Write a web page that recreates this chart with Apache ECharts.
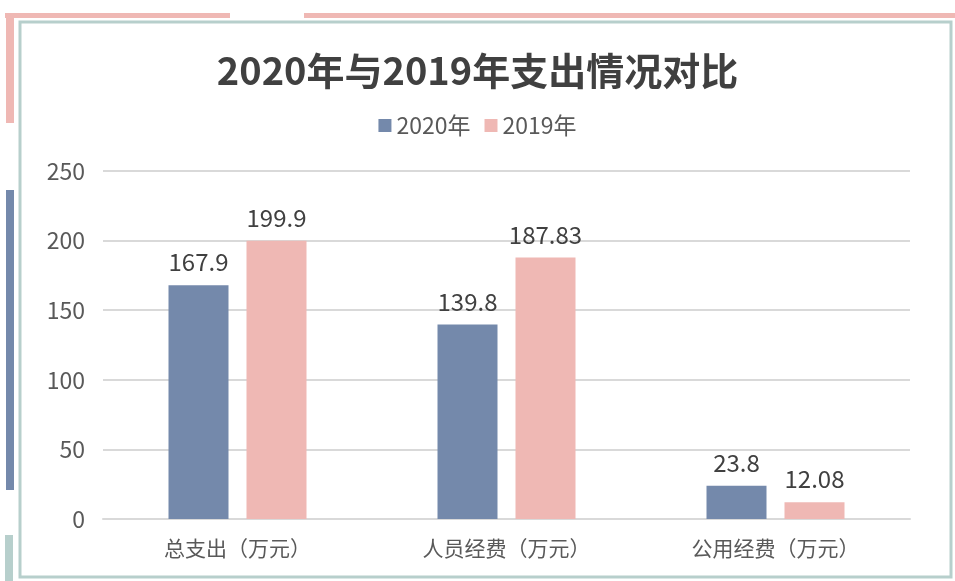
<!DOCTYPE html>
<html>
<head>
<meta charset="utf-8">
<script src="https://cdn.jsdelivr.net/npm/echarts@6/dist/echarts.min.js"></script>
<style>
  html, body { margin: 0; padding: 0; background: #fff; }
  #main { width: 955px; height: 581px; }
</style>
</head>
<body>
<div id="main"></div>
<script>
// 数据
var categories = ['总支出（万元）', '人员经费（万元）', '公用经费（万元）'];
var values2020 = [167.9, 139.8, 23.8];
var values2019 = [199.9, 187.83, 12.08];
var seriesNames = ['2020年', '2019年'];

var myChart = echarts.init(document.getElementById('main'));

var font = '"Noto Sans CJK SC", "Noto Sans", sans-serif';

var option = {
    backgroundColor: '#fff',
    textStyle: { fontFamily: font },
    // 装饰边框
    graphic: [
        { type: 'rect', shape: { x: 5, y: 13, width: 225, height: 5 }, style: { fill: '#efb8b4' }, silent: true },
        { type: 'rect', shape: { x: 304, y: 13, width: 651, height: 5 }, style: { fill: '#efb8b4' }, silent: true },
        { type: 'rect', shape: { x: 6, y: 13, width: 8, height: 110 }, style: { fill: '#efb8b4' }, silent: true },
        { type: 'rect', shape: { x: 6, y: 190, width: 8, height: 300 }, style: { fill: '#7489ab' }, silent: true },
        { type: 'rect', shape: { x: 5, y: 535, width: 8, height: 46 }, style: { fill: '#b7cfcc' }, silent: true },
        { type: 'rect', shape: { x: 20, y: 22, width: 931, height: 555 },
          style: { fill: '#fff', stroke: '#b7cfcc', lineWidth: 3 }, silent: true, z: -1 }
    ],
    title: {
        text: '2020年与2019年支出情况对比',
        left: 'center',
        top: 47,
        textStyle: { fontSize: 38, fontWeight: 'bold', color: '#404040', fontFamily: font }
    },
    legend: {
        data: seriesNames,
        top: 109,
        left: 'center',
        itemWidth: 13,
        itemHeight: 13,
        itemGap: 14,
        icon: 'rect',
        textStyle: { fontSize: 23, color: '#595959', fontFamily: font }
    },
    grid: {
        left: 103,
        right: 45,
        top: 171,
        bottom: 62
    },
    xAxis: [{
        type: 'category',
        data: categories,
        axisTick: { show: false },
        axisLine: { lineStyle: { color: '#d9d9d9', width: 2 } },
        axisLabel: { fontSize: 21, color: '#595959', margin: 19 }
    }],
    yAxis: [{
        type: 'value',
        min: 0,
        max: 250,
        interval: 50,
        axisLine: { show: false },
        axisTick: { show: false },
        axisLabel: { fontSize: 23, color: '#595959', margin: 18 },
        splitLine: { lineStyle: { color: '#d9d9d9', width: 2 } }
    }],
    series: [{
        name: seriesNames[0],
        type: 'bar',
        data: values2020,
        barWidth: 60,
        barGap: '30%',
        itemStyle: { color: '#7489ab' },
        label: { show: true, position: 'top', distance: 11, fontSize: 24, color: '#404040' }
    }, {
        name: seriesNames[1],
        type: 'bar',
        data: values2019,
        barWidth: 60,
        itemStyle: { color: '#efb8b4' },
        label: { show: true, position: 'top', distance: 11, fontSize: 24, color: '#404040' }
    }]
};

myChart.setOption(option);
</script>
</body>
</html>
